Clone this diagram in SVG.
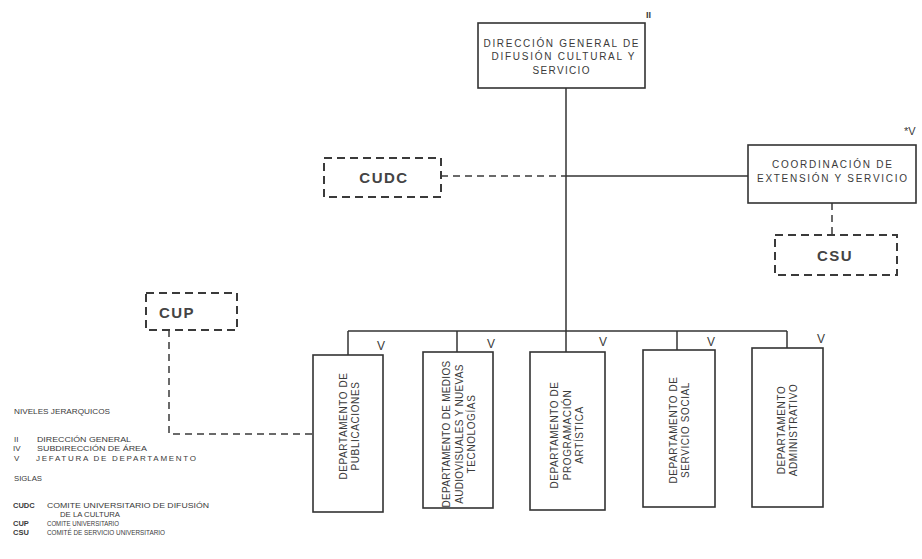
<svg xmlns="http://www.w3.org/2000/svg" width="922" height="559" viewBox="0 0 922 559">
<style>
text{font-family:"Liberation Sans",Arial,sans-serif;fill:#3a3a3a}
.box{fill:#fff;stroke:#333;stroke-width:1.6}
.dbox{fill:#fff;stroke:#3a3a3a;stroke-width:2;stroke-dasharray:8 5}
.ln{fill:none;stroke:#333;stroke-width:1.5}
.dl{fill:none;stroke:#3a3a3a;stroke-width:1.5;stroke-dasharray:7 5}
.t{font-size:10px;text-anchor:middle}
.d{font-size:10px;text-anchor:middle;letter-spacing:0.6px}
.s{font-size:15px;text-anchor:middle;letter-spacing:1.5px;font-weight:bold;fill:#444}
.lv{font-size:12px;text-anchor:middle}
.lg{font-size:8px}
.ls{font-size:6.8px}
.lb{font-size:7.5px;font-weight:bold}
</style>
<rect width="922" height="559" fill="#fff"/>
<g id="connectors">
<line class="ln" x1="566" y1="88" x2="566" y2="352"/>
<line class="dl" x1="441" y1="176" x2="566" y2="176"/>
<line class="ln" x1="566" y1="176" x2="748" y2="176"/>
<line class="dl" x1="832" y1="203" x2="832" y2="235"/>
<line class="ln" x1="348" y1="331" x2="787" y2="331"/>
<line class="ln" x1="348" y1="331" x2="348" y2="355"/>
<line class="ln" x1="457" y1="331" x2="457" y2="352"/>
<line class="ln" x1="677" y1="331" x2="677" y2="350"/>
<line class="ln" x1="787" y1="331" x2="787" y2="348"/>
<polyline class="dl" points="169,330 169,434 313,434"/>
</g>
<g id="direccion">
<rect class="box" x="478" y="23" width="167" height="65"/>
<text class="t" x="561" y="47" textLength="155" lengthAdjust="spacing">DIRECCIÓN GENERAL DE</text>
<text class="t" x="563" y="60" textLength="143" lengthAdjust="spacing">DIFUSIÓN CULTURAL Y</text>
<text class="t" x="561" y="74" textLength="57" lengthAdjust="spacing">SERVICIO</text>
<text x="646" y="18" style="font-size:9px;font-weight:bold">II</text>
</g>
<g id="coordinacion">
<rect class="box" x="748" y="145" width="168" height="58"/>
<text class="t" x="832" y="168" textLength="120" lengthAdjust="spacing">COORDINACIÓN DE</text>
<text class="t" x="832" y="182" textLength="150" lengthAdjust="spacing">EXTENSIÓN Y SERVICIO</text>
<text x="904" y="135" style="font-size:11px">*V</text>
</g>
<g id="cudc">
<rect class="dbox" x="324" y="158" width="117" height="39"/>
<text class="s" x="384" y="183">CUDC</text>
</g>
<g id="csu">
<rect class="dbox" x="775" y="235" width="122" height="40"/>
<text class="s" x="835" y="261">CSU</text>
</g>
<g id="cup">
<rect class="dbox" x="146" y="293" width="91" height="37"/>
<text class="s" x="177" y="318">CUP</text>
</g>
<g id="dep-publicaciones">
<rect class="box" x="313" y="355" width="70" height="157"/>
<g transform="translate(349,426) rotate(-90)">
<text class="d" x="0" y="-2.5">DEPARTAMENTO DE</text>
<text class="d" x="0" y="10">PUBLICACIONES</text>
</g>
<text class="lv" x="381" y="350">V</text>
</g>
<g id="dep-medios">
<rect class="box" x="423" y="352" width="70" height="156"/>
<g transform="translate(459,434) rotate(-90)">
<text class="d" x="0" y="-9" style="letter-spacing:0.3px">DEPARTAMENTO DE MEDIOS</text>
<text class="d" x="0" y="3.5" style="letter-spacing:0.3px">AUDIOVISUALES Y NUEVAS</text>
<text class="d" x="0" y="16">TECNOLOGÍAS</text>
</g>
<text class="lv" x="491" y="348">V</text>
</g>
<g id="dep-programacion">
<rect class="box" x="530" y="352" width="75" height="158"/>
<g transform="translate(567,435) rotate(-90)">
<text class="d" x="0" y="-9">DEPARTAMENTO DE</text>
<text class="d" x="0" y="3.5">PROGRAMACIÓN</text>
<text class="d" x="0" y="16">ARTÍSTICA</text>
</g>
<text class="lv" x="603" y="346">V</text>
</g>
<g id="dep-servicio-social">
<rect class="box" x="643" y="350" width="72" height="157"/>
<g transform="translate(679,430) rotate(-90)">
<text class="d" x="0" y="-2.5">DEPARTAMENTO DE</text>
<text class="d" x="0" y="10">SERVICIO SOCIAL</text>
</g>
<text class="lv" x="711" y="346">V</text>
</g>
<g id="dep-administrativo">
<rect class="box" x="752" y="348" width="71" height="159"/>
<g transform="translate(787,430) rotate(-90)">
<text class="d" x="0" y="-2.5">DEPARTAMENTO</text>
<text class="d" x="0" y="10">ADMINISTRATIVO</text>
</g>
<text class="lv" x="821" y="343">V</text>
</g>
<g id="leyenda">
<text class="lg" x="14" y="414" textLength="96" lengthAdjust="spacingAndGlyphs">NIVELES JERARQUICOS</text>
<text class="lg" x="14" y="442">II</text>
<text class="lg" x="37" y="442" textLength="94" lengthAdjust="spacingAndGlyphs">DIRECCIÓN GENERAL</text>
<text class="lg" x="13" y="451">IV</text>
<text class="lg" x="37" y="451" textLength="110" lengthAdjust="spacingAndGlyphs">SUBDIRECCIÓN DE ÁREA</text>
<text class="lg" x="14" y="461">V</text>
<text class="lg" x="36" y="461" textLength="160" lengthAdjust="spacing">JEFATURA DE  DEPARTAMENTO</text>
<text class="lg" x="14" y="481" textLength="28" lengthAdjust="spacingAndGlyphs">SIGLAS</text>
<text class="lb" x="13" y="508">CUDC</text>
<text class="lg" x="47" y="508" textLength="162" lengthAdjust="spacingAndGlyphs">COMITE UNIVERSITARIO DE DIFUSIÓN</text>
<text class="lg" x="60" y="517" textLength="60" lengthAdjust="spacingAndGlyphs">DE LA CULTURA</text>
<text class="lb" x="13" y="526">CUP</text>
<text class="ls" x="47" y="526" textLength="72" lengthAdjust="spacingAndGlyphs">COMITE UNIVERSITARIO</text>
<text class="lb" x="13" y="535">CSU</text>
<text class="ls" x="47" y="535" textLength="118" lengthAdjust="spacingAndGlyphs">COMITÉ DE SERVICIO UNIVERSITARIO</text>
</g>
</svg>
